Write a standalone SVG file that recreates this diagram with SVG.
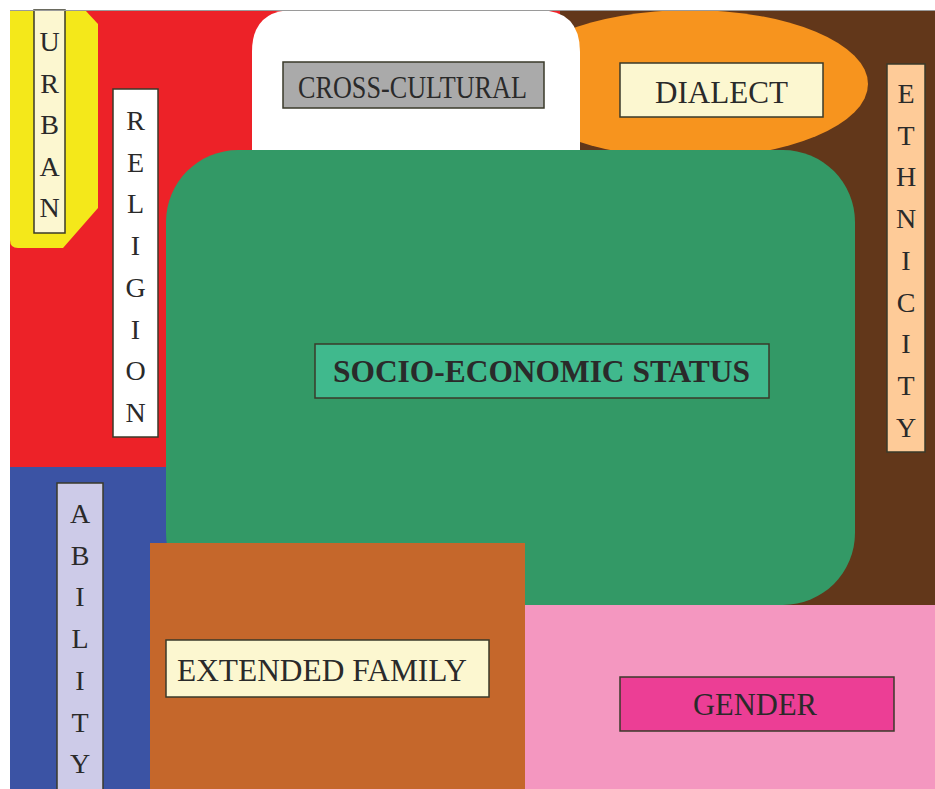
<svg xmlns="http://www.w3.org/2000/svg" width="935" height="789" viewBox="0 0 935 789">
<style>
.lbl{stroke:#3a3a2a;stroke-width:1.5}
.t{font-family:"Liberation Serif","Times New Roman",serif;fill:#2a2a2a}
.v{font-family:"Liberation Serif","Times New Roman",serif;fill:#2a2a2a;font-size:28px;text-anchor:middle}
</style>
<defs>
<clipPath id="frame"><rect x="10" y="10" width="925" height="779"/></clipPath>
</defs>
<rect x="0" y="0" width="935" height="789" fill="#ffffff"/>
<g id="background">
<rect x="10" y="10" width="560" height="460" fill="#ED2228"/>
<rect x="560" y="10" width="375" height="600" fill="#62371A"/>
<rect x="10" y="467" width="160" height="322" fill="#3B53A4"/>
<rect x="525" y="605" width="410" height="184" fill="#F497C0"/>
</g>
<g id="urban">
<path d="M10 10 L85 10 L98 24 L98 208 L63 248 L18 248 Q10 248 10 240 Z" fill="#F4E81A"/>
<rect class="lbl" x="34" y="10" width="31" height="223" fill="#FCF7D0"/>
<text class="v"><tspan x="49.5" y="51">U</tspan><tspan x="49.5" y="92.5">R</tspan><tspan x="49.5" y="134">B</tspan><tspan x="49.5" y="175.5">A</tspan><tspan x="49.5" y="217">N</tspan></text>
</g>
<g id="religion">
<rect class="lbl" x="113" y="89" width="45" height="348" fill="#FFFFFF"/>
<text class="v"><tspan x="135.5" y="130">R</tspan><tspan x="135.5" y="171.7">E</tspan><tspan x="135.5" y="213.4">L</tspan><tspan x="135.5" y="255.1">I</tspan><tspan x="135.5" y="296.8">G</tspan><tspan x="135.5" y="338.5">I</tspan><tspan x="135.5" y="380.2">O</tspan><tspan x="135.5" y="421.9">N</tspan></text>
</g>
<g id="dialect">
<ellipse cx="690" cy="84" rx="178" ry="74" fill="#F7941E" clip-path="url(#frame)"/>
<rect class="lbl" x="620" y="63" width="203" height="54" fill="#FCF7D0"/>
<text class="t" x="721.5" y="103" font-size="32" text-anchor="middle" textLength="133" lengthAdjust="spacingAndGlyphs">DIALECT</text>
</g>
<g id="cross-cultural">
<path d="M252 160 L252 52 Q252 10 294 10 L538 10 Q580 10 580 52 L580 160 Z" fill="#FFFFFF"/>
<rect class="lbl" x="283" y="62" width="261" height="46" fill="#AAAAAA" stroke="#666" stroke-width="1"/>
<text class="t" x="412.5" y="98" font-size="31" text-anchor="middle" textLength="229" lengthAdjust="spacingAndGlyphs" fill="#555555">CROSS-CULTURAL</text>
</g>
<g id="ethnicity">
<rect class="lbl" x="887" y="64" width="38" height="388" fill="#FECB98"/>
<text class="v"><tspan x="906" y="103">E</tspan><tspan x="906" y="144.7">T</tspan><tspan x="906" y="186.4">H</tspan><tspan x="906" y="228.1">N</tspan><tspan x="906" y="269.8">I</tspan><tspan x="906" y="311.5">C</tspan><tspan x="906" y="353.2">I</tspan><tspan x="906" y="394.9">T</tspan><tspan x="906" y="436.6">Y</tspan></text>
</g>
<g id="socio-economic-status">
<rect x="166" y="150" width="689" height="455" rx="72" ry="72" fill="#339966"/>
<rect class="lbl" x="315" y="344" width="454" height="54" fill="#40B98D" stroke="#1f4a35"/>
<text class="t" x="541.5" y="382" font-size="31" font-weight="bold" text-anchor="middle" textLength="417" lengthAdjust="spacingAndGlyphs" fill="#1e2a22">SOCIO-ECONOMIC STATUS</text>
</g>
<g id="ability">
<rect class="lbl" x="57" y="483" width="46" height="310" fill="#CDCBE8" stroke="#22284a"/>
<text class="v"><tspan x="80" y="523">A</tspan><tspan x="80" y="564.7">B</tspan><tspan x="80" y="606.4">I</tspan><tspan x="80" y="648.1">L</tspan><tspan x="80" y="689.8">I</tspan><tspan x="80" y="731.5">T</tspan><tspan x="80" y="773.2">Y</tspan></text>
</g>
<g id="extended-family">
<rect x="150" y="543" width="375" height="246" fill="#C5672B"/>
<rect class="lbl" x="166" y="640" width="323" height="57" fill="#FCF7D0"/>
<text class="t" x="322" y="681" font-size="32" text-anchor="middle" textLength="290" lengthAdjust="spacingAndGlyphs">EXTENDED FAMILY</text>
</g>
<g id="gender">
<rect class="lbl" x="620" y="677" width="274" height="54" fill="#EC3E95" stroke="#4a1e30"/>
<text class="t" x="755" y="715" font-size="31" text-anchor="middle" textLength="124" lengthAdjust="spacingAndGlyphs">GENDER</text>
</g>
<line x1="10" y1="10.5" x2="935" y2="10.5" stroke="#9a9a9a" stroke-width="1"/>
<g id="connectors"/>
</svg>
